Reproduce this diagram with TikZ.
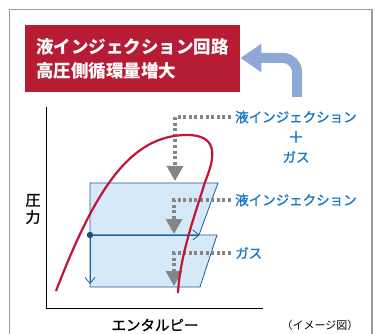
\documentclass[tikz,border=0pt]{standalone}
\usepackage{fontspec}
\setmainfont{Noto Sans CJK JP}
\newfontfamily\jpmed{Noto Sans CJK JP}[FakeBold=1.3]
\usetikzlibrary{arrows.meta,positioning}
\definecolor{frame}{HTML}{9A9A9A}
\definecolor{crimson}{HTML}{B71C35}
\definecolor{dome}{HTML}{C0163A}
\definecolor{flow}{HTML}{8EA8D8}
\definecolor{label}{HTML}{1A78C2}
\definecolor{edge}{HTML}{1F5C99}
\definecolor{pane}{HTML}{D5E9F8}
\definecolor{hint}{HTML}{858585}

\tikzset{
  tag/.style={text=label,font=\jpmed\fontsize{13.5}{16}\selectfont,
    inner xsep=4pt,inner ysep=1pt},
  hintarrow/.style={draw=hint,line width=3.2pt,dash pattern=on 3pt off 2.6pt,
    -{Triangle[length=15pt,width=16pt]}},
  panel/.style={fill=pane,draw=edge,line width=.8pt,line join=miter},
}

\begin{document}
\begin{tikzpicture}[x=1pt,y=-1pt,>={Straight Barb[length=6pt,width=10pt]}]
  \useasboundingbox (0,0) rectangle (375,334);
  % outer frame, open at the bottom
  \draw[frame,line width=1.3pt] (9.5,345) -- (9.5,9.5) -- (372,9.5) -- (372,345);

  % title box
  \node[anchor=north west,fill=crimson,text=white,align=left,
        text width=193pt,inner xsep=11pt,minimum height=67pt,
        font=\fontsize{17.5}{24}\selectfont\bfseries] (title) at (25,25)
    {液インジェクション回路\\高圧側循環量増大};

  % thick return arrow
  \coordinate (flowfoot) at (297,97);
  \draw[flow,line width=10pt,rounded corners=14pt,
        -{Triangle[length=21pt,width=27pt]}]
    (flowfoot) |- (title.east |- 0,58);

  % axes
  \coordinate (origin) at (46,308);
  \draw[line width=.9pt] (46,107) -- (origin) -- (263,308);
  \node[font=\jpmed\fontsize{15}{17}\selectfont,align=center] (pres) at (33,209)
    {圧\\力};
  \node[font=\jpmed\fontsize{14.5}{17}\selectfont] (enth) at (155,325)
    {エンタルピー};
  \node[font=\fontsize{11}{13}\selectfont] (note) at (320,325)
    {（イメージ図）};

  % compression panels
  \draw[panel] (90,183) -- (218,183) -- (199,235) -- (90,235) -- cycle;
  \draw[panel] (90,235) -- (217,235) -- (200,287) -- (90,287) -- cycle;
  \coordinate (split) at (90,235);
  \draw[edge,line width=.8pt,->] (split) -- (199.5,235);
  \draw[edge,line width=.8pt,->] (split) -- (90,284);
  \fill[edge!85!black] (split) circle (3.2pt);

  % labels and hint arrows
  \node[tag,anchor=west] (mixtop) at (231,117) {液インジェクション};
  \node[tag,font=\jpmed\fontsize{16}{16}\selectfont] (mixplus) at (296,137) {＋};
  \node[tag] (mixgas) at (296,157) {ガス};
  \node[tag,anchor=west] (liq) at (231,200) {液インジェクション};
  \node[tag,anchor=west] (gas) at (231,253) {ガス};

  \coordinate (mixend) at (175,181);
  \coordinate (liqend) at (174,234);
  \coordinate (gasend) at (174,286);
  \draw[hintarrow] (mixtop.west) -| (mixend);
  \draw[hintarrow] (liq.west) -| (liqend);
  \draw[hintarrow] (gas.west) -| (gasend);

  % saturation dome
  \draw[dome,line width=2.2pt]
    (56,291) .. controls (95,190) and (130,135) .. (187,135)
    .. controls (222,135) and (213,162) .. (205,182)
    .. controls (195,215) and (180,255) .. (178,293);
\end{tikzpicture}
\end{document}
